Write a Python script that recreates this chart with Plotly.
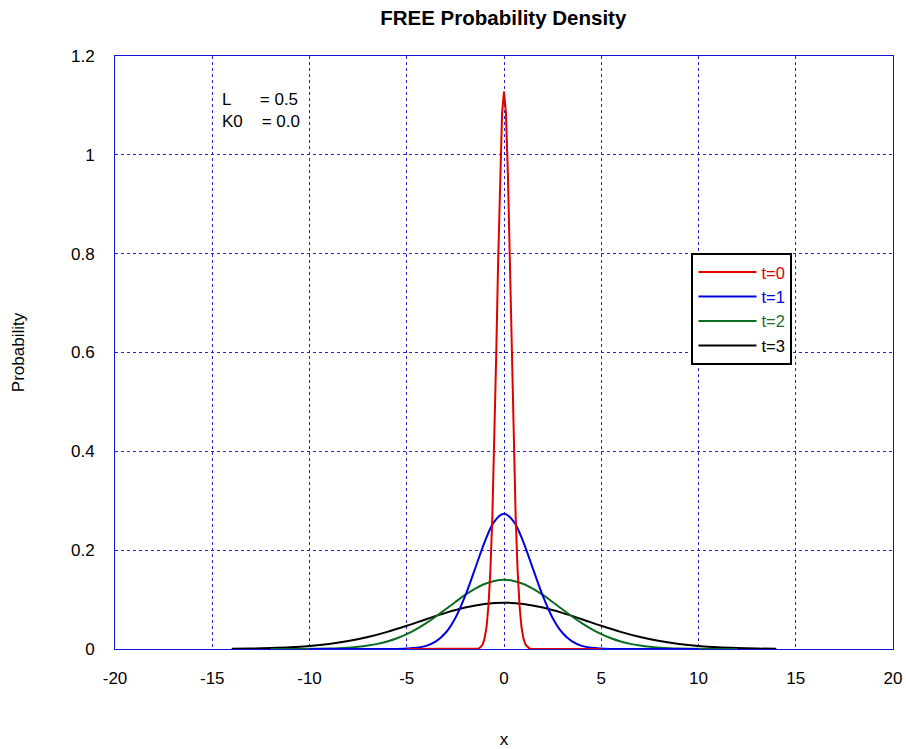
import plotly.graph_objects as go

# Free Gaussian wave packet |psi(x,t)|^2 (L = 0.5, K0 = 0.0)

# t = 0 : narrow packet
x_t0 = [-5.0, -1.4, -1.3, -1.2, -1.1, -1.0, -0.9, -0.8, -0.7, -0.6, -0.5, -0.4, -0.3, -0.2, -0.1,
        0.0, 0.1, 0.2, 0.3, 0.4, 0.5, 0.6, 0.7, 0.8, 0.9, 1.0, 1.1, 1.2, 1.3, 1.4, 5.0]
p_t0 = [0.0, 0.0003, 0.001, 0.004, 0.009, 0.021, 0.044, 0.087, 0.159, 0.267, 0.415, 0.595, 0.787, 0.961, 1.084,
        1.128, 1.084, 0.961, 0.787, 0.595, 0.415, 0.267, 0.159, 0.087, 0.044, 0.021, 0.009, 0.004, 0.001, 0.0003, 0.0]

# t = 1
x_t1 = [-10.0, -6.0, -5.5, -5.0, -4.5, -4.0, -3.5, -3.0, -2.5, -2.0, -1.5, -1.0, -0.5,
        0.0, 0.5, 1.0, 1.5, 2.0, 2.5, 3.0, 3.5, 4.0, 4.5, 5.0, 5.5, 6.0, 10.0]
p_t1 = [0.0, 0.0, 0.0002, 0.0008, 0.0023, 0.0063, 0.0153, 0.0329, 0.0629, 0.107, 0.161, 0.216, 0.258,
        0.2736, 0.258, 0.216, 0.161, 0.107, 0.0629, 0.0329, 0.0153, 0.0063, 0.0023, 0.0008, 0.0002, 0.0, 0.0]

# t = 2
x_t2 = [-12.0, -11.0, -10.0, -9.0, -8.5, -8.0, -7.5, -7.0, -6.5, -6.0, -5.5, -5.0, -4.5, -4.0, -3.5,
        -3.0, -2.5, -2.0, -1.5, -1.0, -0.5, 0.0, 0.5, 1.0, 1.5, 2.0, 2.5, 3.0, 3.5, 4.0, 4.5,
        5.0, 5.5, 6.0, 6.5, 7.0, 7.5, 8.0, 8.5, 9.0, 10.0, 11.0, 12.0]
p_t2 = [0.0, 0.0001, 0.0003, 0.0010, 0.0016, 0.0027, 0.0044, 0.0069, 0.0104, 0.0153, 0.0217, 0.0300,
        0.0402, 0.0523, 0.0658, 0.0804, 0.0952, 0.1094, 0.1218, 0.1316, 0.1378, 0.1399, 0.1378, 0.1316,
        0.1218, 0.1094, 0.0952, 0.0804, 0.0658, 0.0523, 0.0402, 0.0300, 0.0217, 0.0153, 0.0104, 0.0069,
        0.0044, 0.0027, 0.0016, 0.0010, 0.0003, 0.0001, 0.0]

# t = 3
x_t3 = [-14, -13, -12, -11, -10, -9, -8, -7, -6, -5, -4, -3, -2, -1, 0,
        1, 2, 3, 4, 5, 6, 7, 8, 9, 10, 11, 12, 13, 14]
p_t3 = [0.0004, 0.0009, 0.0018, 0.0033, 0.0059, 0.0100, 0.0160, 0.0242, 0.0347, 0.0470, 0.0603, 0.0731,
        0.0839, 0.0911, 0.0937, 0.0911, 0.0839, 0.0731, 0.0603, 0.0470, 0.0347, 0.0242, 0.0160, 0.0100,
        0.0059, 0.0033, 0.0018, 0.0009, 0.0004]

x_ticks = [-20, -15, -10, -5, 0, 5, 10, 15, 20]
y_ticks = [0, 0.2, 0.4, 0.6, 0.8, 1.0, 1.2]

GRID = "rgb(35,35,225)"
FONT = "Liberation Sans, Arial, sans-serif"
NB = "\u00a0"

series = [
    ("t=3", x_t3, p_t3, "#000000", "#000000", "spline"),
    ("t=2", x_t2, p_t2, "#0b6b1e", "#1e6b2e", "spline"),
    ("t=1", x_t1, p_t1, "#0000e0", "#0000e0", "spline"),
    ("t=0", x_t0, p_t0, "#e00000", "#e00000", "linear"),
]

fig = go.Figure()
for name, xs, ys, col, tcol, shape in series:
    fig.add_trace(go.Scatter(
        x=xs, y=ys, mode="lines",
        name=f"<span style='color:{tcol}'>{name}</span>",
        line=dict(color=col, width=2, shape=shape),
    ))

fig.update_layout(
    width=906, height=749,
    margin=dict(l=115, r=13, t=56, b=100, autoexpand=False),
    paper_bgcolor="white", plot_bgcolor="white",
    font=dict(family=FONT, size=17, color="black"),
    title=dict(text="<b>FREE Probability Density</b>", x=0.5555, xanchor="center",
               y=0.976, yanchor="middle", font=dict(size=20.5, family=FONT)),
    showlegend=True,
    legend=dict(
        x=0.741, y=0.668, xanchor="left", yanchor="top",
        bordercolor="black", borderwidth=2, bgcolor="white",
        traceorder="reversed", itemwidth=58,
        font=dict(size=16.5, family=FONT),
    ),
    annotations=[
        dict(x=-14.6, y=1.112, xref="x", yref="y", xanchor="left", yanchor="middle",
             text="L" + NB * 6 + "= 0.5", showarrow=False,
             font=dict(size=17, family=FONT)),
        dict(x=-14.6, y=1.067, xref="x", yref="y", xanchor="left", yanchor="middle",
             text="K0" + NB * 4 + "= 0.0", showarrow=False,
             font=dict(size=17, family=FONT)),
    ],
)

fig.update_xaxes(
    range=[-20, 20], tickvals=x_ticks, ticktext=[str(v) for v in x_ticks],
    showgrid=True, gridcolor=GRID, griddash="dot", gridwidth=1,
    zeroline=False, showline=True, linecolor="rgb(20,20,220)", linewidth=1, mirror=True,
    ticks="", ticklabelstandoff=14, automargin=False,
    title=dict(text="x", standoff=46, font=dict(size=17, family=FONT)),
)
fig.update_yaxes(
    range=[0, 1.2], tickvals=y_ticks, ticktext=["0", "0.2", "0.4", "0.6", "0.8", "1", "1.2"],
    showgrid=True, gridcolor=GRID, griddash="dot", gridwidth=1,
    zeroline=False, showline=True, linecolor="rgb(20,20,220)", linewidth=1, mirror=True,
    ticks="", ticklabelstandoff=16, automargin=False,
    title=dict(text="Probability", standoff=42, font=dict(size=17, family=FONT)),
)

fig.write_html("out.html")
